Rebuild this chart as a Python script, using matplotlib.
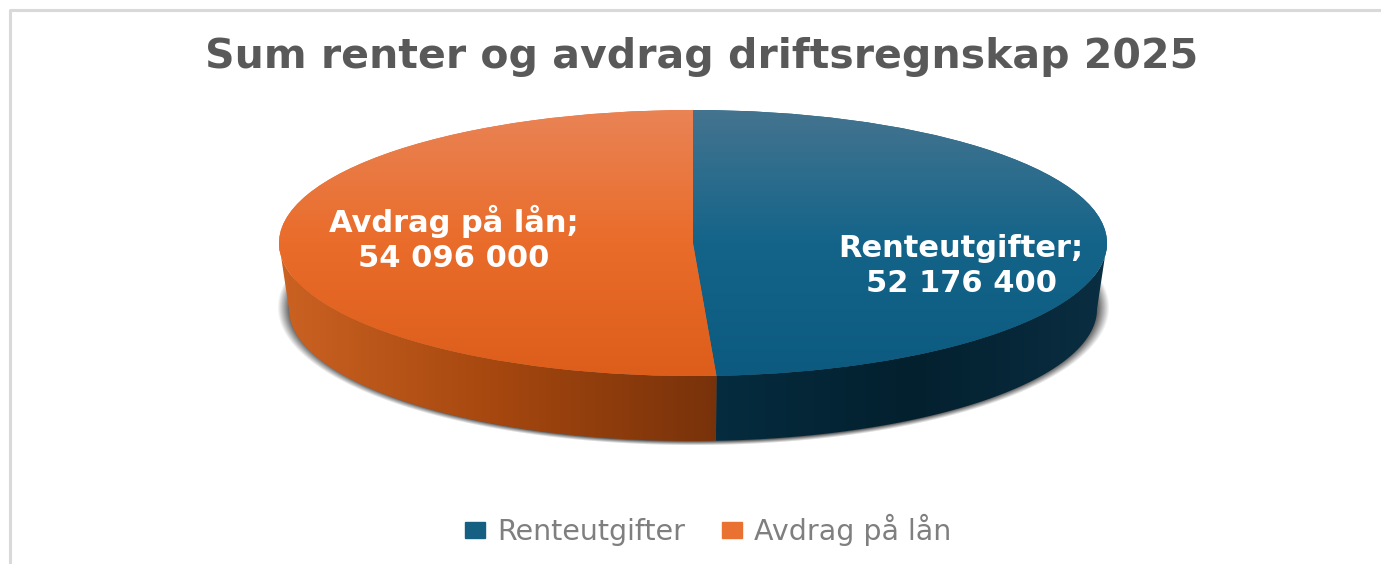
import numpy as np
import matplotlib
matplotlib.use('Agg')
from matplotlib import pyplot as plt
from matplotlib.colors import LinearSegmentedColormap
from matplotlib.patches import Patch, Polygon

title = 'Sum renter og avdrag driftsregnskap 2025'
categories = ['Renteutgifter', 'Avdrag på lån']
values = [52176400, 54096000]

W, H = 1381, 564
colors = ['#156082', '#E97132']
# top surface, top to bottom of the disc
top_shades = [['#44748F', '#14648A', '#0C5A7F'], ['#E98355', '#EA6C2A', '#DD5E1B']]
# side wall, left to right
wall_shades = [['#052C3F', '#03202E', '#0A2E42'], ['#CB6222', '#A5470F', '#78320A']]

# disc geometry in pixels
CX, CY, RX, RY = 693, 243, 414, 133
BOT_CY, BOT_RX, BOT_RY = 309, 404, 132


def gradient(ax, shades, extent, vertical):
    cmap = LinearSegmentedColormap.from_list('g', shades)
    ramp = np.linspace(0, 1, 256)
    ramp = ramp[:, None] if vertical else ramp[None, :]
    return ax.imshow(ramp, cmap=cmap, extent=extent, aspect='auto', origin='upper', zorder=2)


fig = plt.figure(figsize=(W / 100, H / 100), dpi=100, facecolor='white')
ax = fig.add_axes([0, 0, 1, 1])
ax.set_axis_off()

# frame of the chart, only top and left show
ax.plot([W, 10.5, 10.5], [9.5, 9.5, H], color='#D9D9D9', lw=2.2, zorder=1)

# soft shadow under the disc
xx, yy = np.meshgrid(np.arange(W), np.arange(H))
d = np.sqrt(((xx - CX) / 416.0) ** 2 + ((yy - 307) / 138.0) ** 2)
shadow = np.zeros((H, W, 4))
shadow[..., :3] = 0.25
shadow[..., 3] = np.clip((1 - d) / 0.03, 0, 1) * 0.85
ax.imshow(shadow, extent=(0, W, H, 0), aspect='auto', zorder=1.5, interpolation='bilinear')

# side wall, cut where the slices meet
cut = 360.0 * values[0] / sum(values)
spans = [(90.0, cut), (cut, 270.0)]
for (a0, a1), shades in zip(spans, wall_shades):
    a = np.radians(np.linspace(a0, a1, 200))
    top = np.column_stack([CX + RX * np.sin(a), CY - RY * np.cos(a)])
    bot = np.column_stack([CX + BOT_RX * np.sin(a), BOT_CY - BOT_RY * np.cos(a)])
    pts = np.vstack([top, bot[::-1]])
    x0, x1 = pts[:, 0].min(), pts[:, 0].max()
    y0, y1 = pts[:, 1].min(), pts[:, 1].max()
    poly = Polygon(pts, closed=True, fc='none', ec='none', transform=ax.transData)
    ax.add_patch(poly)
    im = gradient(ax, shades, (x0, x1, y1, y0), False)
    im.set_clip_path(poly)
ax.set_xlim(0, W)
ax.set_ylim(H, 0)

# top of the disc, own axes so the pie squashes into an ellipse
pad = 1.02
pie_ax = fig.add_axes([(CX - RX * pad) / W, 1 - (CY + RY * pad) / H, 2 * RX * pad / W, 2 * RY * pad / H])
wedges, _ = pie_ax.pie(values, colors=colors, startangle=90, counterclock=False, radius=1)
pie_ax.set_aspect('auto')
pie_ax.patch.set_alpha(0)
for w, shades in zip(wedges, top_shades):
    w.set_edgecolor('none')
    im = gradient(pie_ax, shades, (-1, 1, -1, 1), True)
    im.set_clip_path(w)
pie_ax.set_xlim(-pad, pad)
pie_ax.set_ylim(-pad, pad)

fig.text(702 / W, 1 - 57 / H, title, ha='center', va='center', fontsize=29.5,
         fontweight='bold', color='#595959', family='DejaVu Sans')

label_pos = [(961, 266), (454, 239)]
for cat, v, (lx, ly) in zip(categories, values, label_pos):
    txt = f'{cat};\n{v:,}'.replace(',', ' ')
    fig.text(lx / W, 1 - ly / H, txt, ha='center', va='center', fontsize=22, fontweight='bold',
             color='white', family='DejaVu Sans', linespacing=1.25)

handles = [Patch(color=c, label=n) for c, n in zip(colors, categories)]
fig.legend(handles=handles, loc='center', bbox_to_anchor=(708 / W, 1 - 530 / H), ncol=2, frameon=False,
           fontsize=20.5, labelcolor='#7F7F7F', handlelength=0.7, handleheight=0.45,
           handletextpad=0.42, columnspacing=1.3)

fig.savefig('out.png', dpi=100)
